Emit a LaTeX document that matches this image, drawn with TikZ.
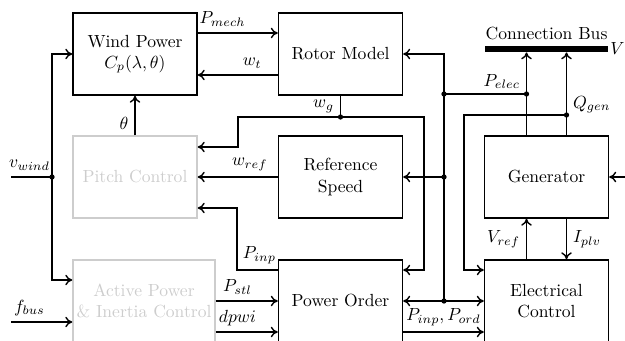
\documentclass[tikz,border=0pt]{standalone}
\usepackage{tikz}
\usetikzlibrary{arrows.meta,positioning,calc}
\definecolor{grisclair}{RGB}{205,205,205}

\begin{document}
\begin{tikzpicture}[x=0.02cm,y=0.02cm,>={To[length=4pt,width=6pt]},
  blk/.style={draw, line width=0.8pt, minimum width=2.48cm, minimum height=1.64cm, align=center, inner sep=2pt},
  gblk/.style={blk, draw=grisclair, text=grisclair},
  wire/.style={line width=0.8pt}]
\path[use as bounding box, clip] (0,0) rectangle (625,341);

\node[blk] (wind) at (135,287) {Wind Power\\$C_p(\lambda,\theta)$};
\node[blk] (rotor) at (340.5,287) {Rotor Model};
\node[gblk] (pitch) at (135,164) {Pitch Control};
\node[blk] (refspd) at (340.5,164) {Reference\\Speed};
\node[blk] (gen) at (546.5,164) {Generator};
\node[gblk, minimum width=2.84cm] (actpow) at (144,40) {Active Power\\\& Inertia Control};
\node[blk] (porder) at (340.5,40) {Power Order};
\node[blk] (elecctrl) at (546.5,40) {Electrical\\Control};
\node[fill=black, minimum width=2.46cm, minimum height=0.12cm, inner sep=0pt] (bus) at (546.5,292) {};
\node[above] (buslbl) at (bus.north) {Connection Bus};
\node[right, inner sep=1pt] (busv) at (bus.east) {$V$};

\coordinate (jwg) at (340.5,224);
\coordinate (vin) at (11,164);
\coordinate (jvw) at (52,164);
\coordinate (fin) at (11,19);
\coordinate (jrot) at (444,247);
\coordinate (jref) at (444,164);
\coordinate (jord) at (444,40);
\coordinate (jpel) at (526.5,247);
\coordinate (jq) at (566.5,226);
\coordinate (gin) at (625,164);

\draw[wire,->] (wind.east |- 0,308) -- (rotor.west |- 0,308) node[pos=0.31,above] (lpmech) {$P_{mech}$};
\draw[wire,->] (rotor.west |- 0,266) -- (wind.east |- 0,266) node[pos=0.32,above] (lwt) {$w_t$};
\draw[wire,->] (pitch.north) -- (wind.south) node[pos=0.3,left] (ltheta) {$\theta$};

\draw[wire] (rotor.south) -- (jwg) node[midway,left] (lwg) {$w_g$};
\draw[wire,->] (jwg) -- (238,224) -- (238,194) -- (pitch.east |- 0,194);
\draw[wire,->] (jwg) -- (424,224) -- (424,71) -- (porder.east |- 0,71);

\draw[wire] (vin) -- (jvw) node[pos=0.45,above] (lvw) {$v_{wind}$};
\draw[wire,->] (jvw) |- (wind.west);
\draw[wire,->] (jvw) |- (actpow.west |- 0,61);
\draw[wire,->] (fin) -- (actpow.west |- fin) node[pos=0.3,above] (lfbus) {$f_{bus}$};

\draw[wire,->] (refspd.west) -- (pitch.east) node[pos=0.35,above] (lwref) {$w_{ref}$};
\draw[wire,->] (porder.west |- 0,71) -- node[pos=0.45,above] (lpinp) {$P_{inp}$} (237,71) -- (237,133) -- (pitch.east |- 0,133);
\draw[wire,->] (actpow.east) -- (porder.west) node[pos=0.35,above] (lpstl) {$P_{stl}$};
\draw[wire,->] (actpow.east |- 0,9) -- (porder.west |- 0,9) node[pos=0.35,above] (ldpwi) {$dpwi$};

\draw[wire,->] (jord) |- (rotor.east);
\draw[wire,->] (jref) -- (refspd.east);
\draw[wire,<->] (porder.east) -- (elecctrl.west);
\draw[wire,->] (porder.east |- 0,9) -- (elecctrl.west |- 0,9) node[midway,above] (lpord) {$P_{inp}, P_{ord}$};
\draw[wire] (jrot) -- (jpel);

\draw[wire,->] (gen.north -| jpel) -- (bus.south -| jpel) node[pos=0.65,left] (lpelec) {$P_{elec}$};
\draw[wire,->] (gen.north -| jq) -- (bus.south -| jq) node[pos=0.37,right] (lqgen) {$Q_{gen}$};
\draw[wire,->] (jq) -- (464,226) -- (464,71) -- (elecctrl.west |- 0,71);
\draw[wire,->] (elecctrl.north -| jpel) -- (gen.south -| jpel) node[midway,left] (lvref) {$V_{ref}$};
\draw[wire,->] (gen.south -| jq) -- (elecctrl.north -| jq) node[midway,right] (liplv) {$I_{plv}$};
\draw[wire,->] (gin) -- (gen.east);

\foreach \j in {jwg,jvw,jrot,jref,jord,jpel,jq}
  \fill (\j) circle (1.5pt);
\end{tikzpicture}
\end{document}
